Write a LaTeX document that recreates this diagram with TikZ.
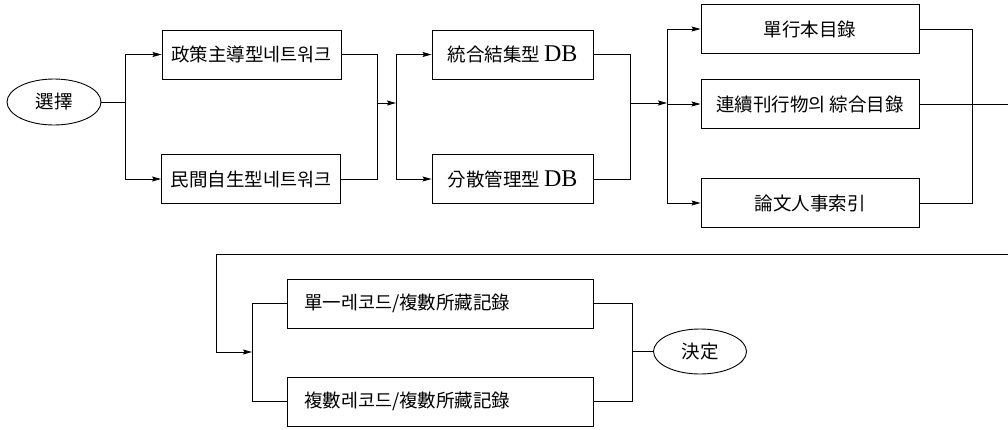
\documentclass[tikz,border=0pt]{standalone}
\usepackage{fontspec}
\setmainfont{Noto Sans CJK KR}
\newfontfamily\lat{Liberation Serif}
\usetikzlibrary{arrows.meta,shapes.geometric}
\tikzset{
  box/.style={draw, line width=0.9pt, rectangle, inner sep=0pt, minimum height=49pt, font=\fontsize{18.5}{20}\selectfont},
  lbox/.style={box, text width=272pt, inner xsep=17pt, align=left, minimum width=306pt},
  oval/.style={draw, line width=0.9pt, ellipse, inner sep=0pt, minimum width=94pt, minimum height=46pt, font=\fontsize{18.5}{20}\selectfont},
  ln/.style={line width=0.9pt},
  arr/.style={ln, -{Stealth[length=9pt,width=5pt,inset=1.5pt]}}
}
\newcommand{\dbtxt}{{\lat\fontsize{24}{24}\selectfont DB}}
\begin{document}
\begin{tikzpicture}[x=1pt,y=-1pt]
\useasboundingbox (0,0) rectangle (1008,429);
% nodes
\node[oval] (e1) at (54,102) {選擇};
\node[box, minimum width=179pt] (p1) at (251.5,54.5) {政策主導型네트워크};
\node[box, minimum width=179pt] (p2) at (251,179) {民間自生型네트워크};
\node[box, minimum width=161pt] (d1) at (512.5,54.5) {統合結集型 \dbtxt};
\node[box, minimum width=161pt] (d2) at (512.5,179) {分散管理型 \dbtxt};
\node[box, minimum width=218pt] (c1) at (810,29) {單行本目錄};
\node[box, minimum width=218pt] (c2) at (810,104) {連續刊行物의 綜合目錄};
\node[box, minimum width=218pt] (c3) at (810,203) {論文人事索引};
\node[lbox] (r1) at (440,303.5) {單一레코드/複數所藏記錄};
\node[lbox] (r2) at (440,401.5) {複數레코드/複數所藏記錄};
\node[oval, minimum width=93pt, minimum height=45pt] (e2) at (700,351.5) {決定};
% junctions
\coordinate (j1) at (125,102);
\coordinate (j2) at (377,103);
\coordinate (j3) at (396,103);
\coordinate (j4) at (630,103);
\coordinate (j5) at (667,103);
\coordinate (j6) at (972,103);
\coordinate (o1) at (1008,104);
\coordinate (o2) at (1008,254);
\coordinate (k1) at (216,254);
\coordinate (j7) at (252,352);
\coordinate (j8) at (632,351.5);
% connectors
\draw[ln] (e1.east) -- (j1);
\draw[arr] (j1) |- (p1.west);
\draw[arr] (j1) |- (p2.west);
\draw[ln] (p1.east) -| (j2);
\draw[ln] (p2.east) -| (j2);
\draw[arr] (j2) -- (j3);
\draw[arr] (j3) |- (d1.west);
\draw[arr] (j3) |- (d2.west);
\draw[ln] (d1.east) -| (j4);
\draw[ln] (d2.east) -| (j4);
\draw[arr] (j4) -- (j5);
\draw[arr] (j5) |- (c1.west);
\draw[arr] (j5) |- (c2.west);
\draw[arr] (j5) |- (c3.west);
\draw[ln] (c1.east) -| (j6);
\draw[ln] (c3.east) -| (j6);
\draw[ln] (c2.east) -- (o1);
\draw[arr] (o2) -- (k1) |- (j7);
\draw[ln] (j7) |- (r1.west);
\draw[ln] (j7) |- (r2.west);
\draw[ln] (r1.east) -| (j8);
\draw[ln] (r2.east) -| (j8);
\draw[ln] (j8) -- (e2.west);
\end{tikzpicture}
\end{document}
